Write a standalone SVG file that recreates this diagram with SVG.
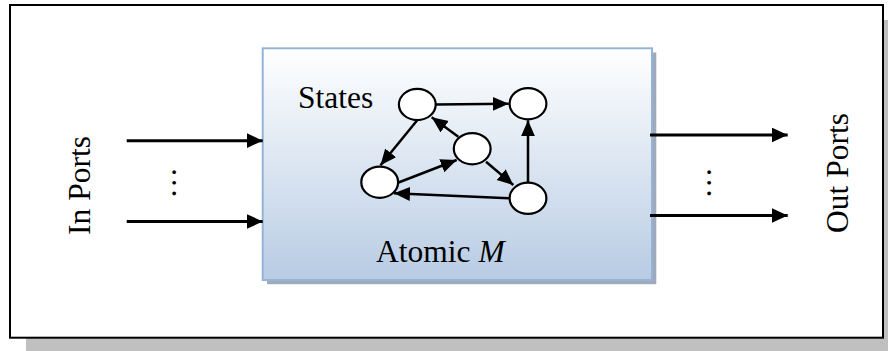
<svg xmlns="http://www.w3.org/2000/svg" width="888" height="351" viewBox="0 0 888 351">
  <defs>
    <linearGradient id="boxFill" x1="0" y1="0" x2="0" y2="1">
      <stop offset="0" stop-color="#ffffff"/>
      <stop offset="1" stop-color="#b8cce4"/>
    </linearGradient>
    <marker id="head" markerUnits="userSpaceOnUse" markerWidth="17" markerHeight="16" refX="16" refY="7.5" orient="auto">
      <path d="M0,0 L16,7.5 L0,15 z" fill="#000"/>
    </marker>
    <marker id="headSmall" markerUnits="userSpaceOnUse" markerWidth="17" markerHeight="15" refX="16" refY="7" orient="auto">
      <path d="M0,0 L16,7 L0,14 z" fill="#000"/>
    </marker>
  </defs>
  <style>
    .serif { font-family: "Liberation Serif", "Times New Roman", serif; fill: #000; }
    .lbl { font-size: 31.5px; }
    .state { fill: #ffffff; stroke: #000; stroke-width: 2.2; }
    .port { stroke: #000; stroke-width: 3; fill: none; marker-end: url(#head); }
    .trans { stroke: #000; stroke-width: 2.5; fill: none; marker-end: url(#headSmall); }
  </style>

  <rect width="888" height="351" fill="#ffffff"/>

  <!-- outer frame with drop shadow -->
  <g id="frame">
    <rect x="26" y="20" width="880" height="340" fill="#c0c0c0"/>
    <rect x="10" y="5" width="873" height="332.7" fill="#ffffff" stroke="#000" stroke-width="2"/>
  </g>

  <!-- atomic model box -->
  <g id="atomic">
    <rect x="267" y="52.5" width="389.3" height="231.7" fill="#9eaabb"/>
    <rect x="262.7" y="48.3" width="389.3" height="231.7" fill="url(#boxFill)" stroke="#95b3d7" stroke-width="2"/>
    <text class="serif lbl" x="298" y="107.7">States</text>
    <text class="serif lbl" x="376" y="261.7">Atomic <tspan font-style="italic">M</tspan></text>
  </g>

  <!-- states -->
  <g id="stateA"><ellipse class="state" cx="417.3" cy="104.5" rx="18.4" ry="15.6"/></g>
  <g id="stateB"><ellipse class="state" cx="528" cy="103.7" rx="18.4" ry="15.6"/></g>
  <g id="stateC"><ellipse class="state" cx="472.2" cy="148.7" rx="18.4" ry="15.6"/></g>
  <g id="stateD"><ellipse class="state" cx="379.7" cy="182.2" rx="18.4" ry="15.6"/></g>
  <g id="stateE"><ellipse class="state" cx="528" cy="198.3" rx="18.4" ry="15.6"/></g>

  <!-- port labels -->
  <g id="inPorts">
    <text class="serif lbl" text-anchor="middle" transform="translate(90,185.5) rotate(-90)">In Ports</text>
    <text class="serif lbl" text-anchor="middle" transform="translate(175.5,182.7) rotate(-90)">…</text>
  </g>
  <g id="outPorts">
    <text class="serif lbl" text-anchor="middle" transform="translate(848,173) rotate(-90)">Out Ports</text>
    <text class="serif lbl" text-anchor="middle" transform="translate(710.5,182.7) rotate(-90)">…</text>
  </g>

  <!-- connectors -->
  <g id="connectors">
    <line class="port" x1="126.7" y1="140.7" x2="262.7" y2="140.7"/>
    <line class="port" x1="126.7" y1="221.5" x2="262.7" y2="221.5"/>
    <line class="port" x1="650" y1="135" x2="787.7" y2="135"/>
    <line class="port" x1="650" y1="215.5" x2="787.7" y2="215.5"/>

    <line class="trans" x1="436" y1="104.5" x2="508.7" y2="103.8"/>
    <line class="trans" x1="417" y1="120.5" x2="380.5" y2="165.3"/>
    <line class="trans" x1="458.3" y1="136.7" x2="431.7" y2="117.3"/>
    <line class="trans" x1="398.5" y1="182.5" x2="456.7" y2="160"/>
    <line class="trans" x1="486" y1="161.7" x2="513.3" y2="185"/>
    <line class="trans" x1="528" y1="182" x2="528" y2="120.3"/>
    <line class="trans" x1="509" y1="198.3" x2="394" y2="193.3"/>
  </g>
</svg>
